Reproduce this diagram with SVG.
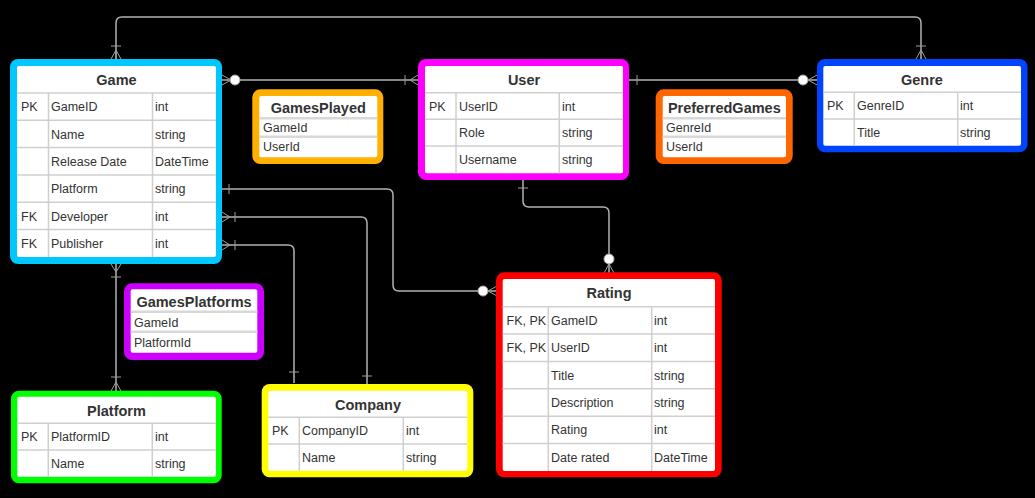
<svg xmlns="http://www.w3.org/2000/svg" width="1035" height="498" viewBox="0 0 1035 498">
<style>
.t{font-family:"Liberation Sans",Arial,sans-serif;font-size:12.5px;fill:#333}
.h{font-family:"Liberation Sans",Arial,sans-serif;font-size:14.5px;font-weight:bold;fill:#333;text-anchor:middle}
.g{stroke:#cfcfcf;stroke-width:1.5;fill:none}
.g2{stroke:#d8d8d8;stroke-width:2.5;fill:none}
.w{fill:#fff}
.c{fill:none;stroke:#b3b3b3;stroke-width:1.5}
.m{fill:none;stroke:#a0a0a0;stroke-width:1}
.o{fill:#fff;stroke:#a0a0a0;stroke-width:1}
</style>
<rect x="0" y="0" width="1035" height="498" fill="#000"/>

<g id="connectors">
  <!-- Game - Genre (top) -->
  <path class="c" d="M116,59 V23 Q116,17 122,17 H915 Q921,17 921,23 V59"/>
  <path class="m" d="M111,46 H121 M111,59 L116,50 L121,59 M116,50 V59"/>
  <path class="m" d="M916,46 H926 M916,59 L921,50 L926,59"/>
  <!-- Game - User -->
  <path class="c" d="M222,80 H418"/>
  <path class="m" d="M222,75 L231,80 L222,85"/>
  <circle class="o" cx="235" cy="80" r="5"/>
  <path class="m" d="M405,75 V85 M418,75 L410,80 L418,85"/>
  <!-- User - Genre -->
  <path class="c" d="M629,80 H817"/>
  <path class="m" d="M637,75 V85 M817,75 L808,80 L817,85"/>
  <circle class="o" cx="803" cy="80" r="5"/>
  <!-- Game - Platform -->
  <path class="c" d="M116,264 V391"/>
  <path class="m" d="M111,264 L116,272 L121,264 M111,277 H121"/>
  <path class="m" d="M111,377 H121 M111,391 L116,382 L121,391"/>
  <!-- Game.Platform - Rating -->
  <path class="c" d="M219,189 H387 Q393,189 393,195 V285 Q393,291 399,291 H497"/>
  <path class="m" d="M229,184 V194 M497,286 L488,291 L497,296"/>
  <circle class="o" cx="483" cy="291" r="5"/>
  <!-- Game.Developer - Company -->
  <path class="c" d="M222,217 H361 Q367,217 367,223 V385"/>
  <path class="m" d="M222,212 L230,217 L222,222 M235,212 V222 M362,376 H372"/>
  <!-- Game.Publisher - Company -->
  <path class="c" d="M222,245 H288 Q294,245 294,251 V383"/>
  <path class="m" d="M222,240 L230,245 L222,250 M235,240 V250 M289,372 H299"/>
  <!-- User - Rating -->
  <path class="c" d="M523,180 V201 Q523,207 529,207 H603 Q609,207 609,213 V273"/>
  <path class="m" d="M518,188 H528 M604,273 L609,264 L614,273"/>
  <circle class="o" cx="609" cy="259" r="5"/>
</g>

<g id="Game">
  <rect x="10" y="59" width="212" height="205" rx="8" fill="#00c8ff"/>
  <rect class="w" x="17" y="66" width="199" height="191" rx="2"/>
  <path class="g" d="M17,93 H216 M17,120.3 H216 M17,147.6 H216 M17,175 H216 M17,202.3 H216 M17,229.6 H216 M48.5,93 V257 M152.5,93 V257"/>
  <text class="h" x="116.5" y="85">Game</text>
  <text class="t" x="21" y="111.2">PK</text><text class="t" x="51" y="111.2">GameID</text><text class="t" x="155" y="111.2">int</text>
  <text class="t" x="51" y="138.5">Name</text><text class="t" x="155" y="138.5">string</text>
  <text class="t" x="51" y="165.8">Release Date</text><text class="t" x="155" y="165.8">DateTime</text>
  <text class="t" x="51" y="193.1">Platform</text><text class="t" x="155" y="193.1">string</text>
  <text class="t" x="21" y="220.5">FK</text><text class="t" x="51" y="220.5">Developer</text><text class="t" x="155" y="220.5">int</text>
  <text class="t" x="21" y="247.8">FK</text><text class="t" x="51" y="247.8">Publisher</text><text class="t" x="155" y="247.8">int</text>
</g>

<g id="User">
  <rect x="418" y="59" width="211" height="121" rx="8" fill="#ff00ff"/>
  <rect class="w" x="425" y="66" width="198" height="107.3" rx="2"/>
  <path class="g" d="M425,92.7 H623 M425,119.3 H623 M425,146 H623 M456,92.7 V173.3 M559.3,92.7 V173.3"/>
  <text class="h" x="524" y="85">User</text>
  <text class="t" x="429" y="110.5">PK</text><text class="t" x="459" y="110.5">UserID</text><text class="t" x="562" y="110.5">int</text>
  <text class="t" x="459" y="137.2">Role</text><text class="t" x="562" y="137.2">string</text>
  <text class="t" x="459" y="164.2">Username</text><text class="t" x="562" y="164.2">string</text>
</g>

<g id="Genre">
  <rect x="817" y="59" width="210.5" height="93.3" rx="8" fill="#0044ff"/>
  <rect class="w" x="823.3" y="66" width="197.7" height="79.7" rx="2"/>
  <path class="g" d="M823.3,92.3 H1021 M823.3,119 H1021 M854.3,92.3 V145.7 M957.7,92.3 V145.7"/>
  <text class="h" x="922" y="85">Genre</text>
  <text class="t" x="827" y="110">PK</text><text class="t" x="857" y="110">GenreID</text><text class="t" x="960" y="110">int</text>
  <text class="t" x="857" y="136.8">Title</text><text class="t" x="960" y="136.8">string</text>
</g>

<g id="GamesPlayed">
  <rect x="252.3" y="89.3" width="131" height="74.7" rx="8" fill="#ffb000"/>
  <rect class="w" x="259.3" y="96" width="118" height="61.3" rx="2"/>
  <path class="g2" d="M259.3,118.3 H377.3 M259.3,136.7 H377.3"/>
  <text class="h" x="318.3" y="112.5">GamesPlayed</text>
  <text class="t" x="263" y="131.7">GameId</text>
  <text class="t" x="263" y="150.5">UserId</text>
</g>

<g id="PreferredGames">
  <rect x="655.7" y="89.3" width="137" height="74.7" rx="8" fill="#ff6600"/>
  <rect class="w" x="662.7" y="96" width="123.3" height="61.3" rx="2"/>
  <path class="g2" d="M662.7,118.3 H786 M662.7,136.7 H786"/>
  <text class="h" x="724.3" y="112.5">PreferredGames</text>
  <text class="t" x="666" y="131.7">GenreId</text>
  <text class="t" x="666" y="150.5">UserId</text>
</g>

<g id="GamesPlatforms">
  <rect x="124" y="283.3" width="140" height="76.7" rx="8" fill="#cc00ff"/>
  <rect class="w" x="130.7" y="289.3" width="126.6" height="63.4" rx="2"/>
  <path class="g2" d="M130.7,311.7 H257.3 M130.7,331.7 H257.3"/>
  <text class="h" x="194" y="306.5">GamesPlatforms</text>
  <text class="t" x="134" y="326.5">GameId</text>
  <text class="t" x="134" y="346.5">PlatformId</text>
</g>

<g id="Platform">
  <rect x="11" y="390.7" width="210.7" height="92.6" rx="8" fill="#00ff00"/>
  <rect class="w" x="17.3" y="396.7" width="198.7" height="80" rx="2"/>
  <path class="g" d="M17.3,423.3 H216 M17.3,450 H216 M48.3,423.3 V476.7 M152.3,423.3 V476.7"/>
  <text class="h" x="116.5" y="416">Platform</text>
  <text class="t" x="21" y="441.3">PK</text><text class="t" x="51" y="441.3">PlatformID</text><text class="t" x="155" y="441.3">int</text>
  <text class="t" x="51" y="467.8">Name</text><text class="t" x="155" y="467.8">string</text>
</g>

<g id="Company">
  <rect x="261.7" y="384" width="211.6" height="93.3" rx="8" fill="#ffff00"/>
  <rect class="w" x="268.3" y="390.7" width="199" height="80" rx="2"/>
  <path class="g" d="M268.3,417.3 H467.3 M268.3,444 H467.3 M299.3,417.3 V470.7 M403.3,417.3 V470.7"/>
  <text class="h" x="368" y="410">Company</text>
  <text class="t" x="272" y="435.3">PK</text><text class="t" x="302" y="435.3">CompanyID</text><text class="t" x="406" y="435.3">int</text>
  <text class="t" x="302" y="461.8">Name</text><text class="t" x="406" y="461.8">string</text>
</g>

<g id="Rating">
  <rect x="496" y="272.3" width="225.7" height="205" rx="8" fill="#ff0000"/>
  <rect class="w" x="502.7" y="279" width="212.3" height="192" rx="2"/>
  <path class="g" d="M502.7,306.7 H715 M502.7,334.1 H715 M502.7,361.4 H715 M502.7,388.8 H715 M502.7,416.2 H715 M502.7,443.6 H715 M548.3,306.7 V471 M651.7,306.7 V471"/>
  <text class="h" x="609" y="298">Rating</text>
  <text class="t" x="506.5" y="324.9">FK, PK</text><text class="t" x="551" y="324.9">GameID</text><text class="t" x="654" y="324.9">int</text>
  <text class="t" x="506.5" y="352.2">FK, PK</text><text class="t" x="551" y="352.2">UserID</text><text class="t" x="654" y="352.2">int</text>
  <text class="t" x="551" y="379.6">Title</text><text class="t" x="654" y="379.6">string</text>
  <text class="t" x="551" y="407">Description</text><text class="t" x="654" y="407">string</text>
  <text class="t" x="551" y="434.4">Rating</text><text class="t" x="654" y="434.4">int</text>
  <text class="t" x="551" y="461.8">Date rated</text><text class="t" x="654" y="461.8">DateTime</text>
</g>
</svg>
